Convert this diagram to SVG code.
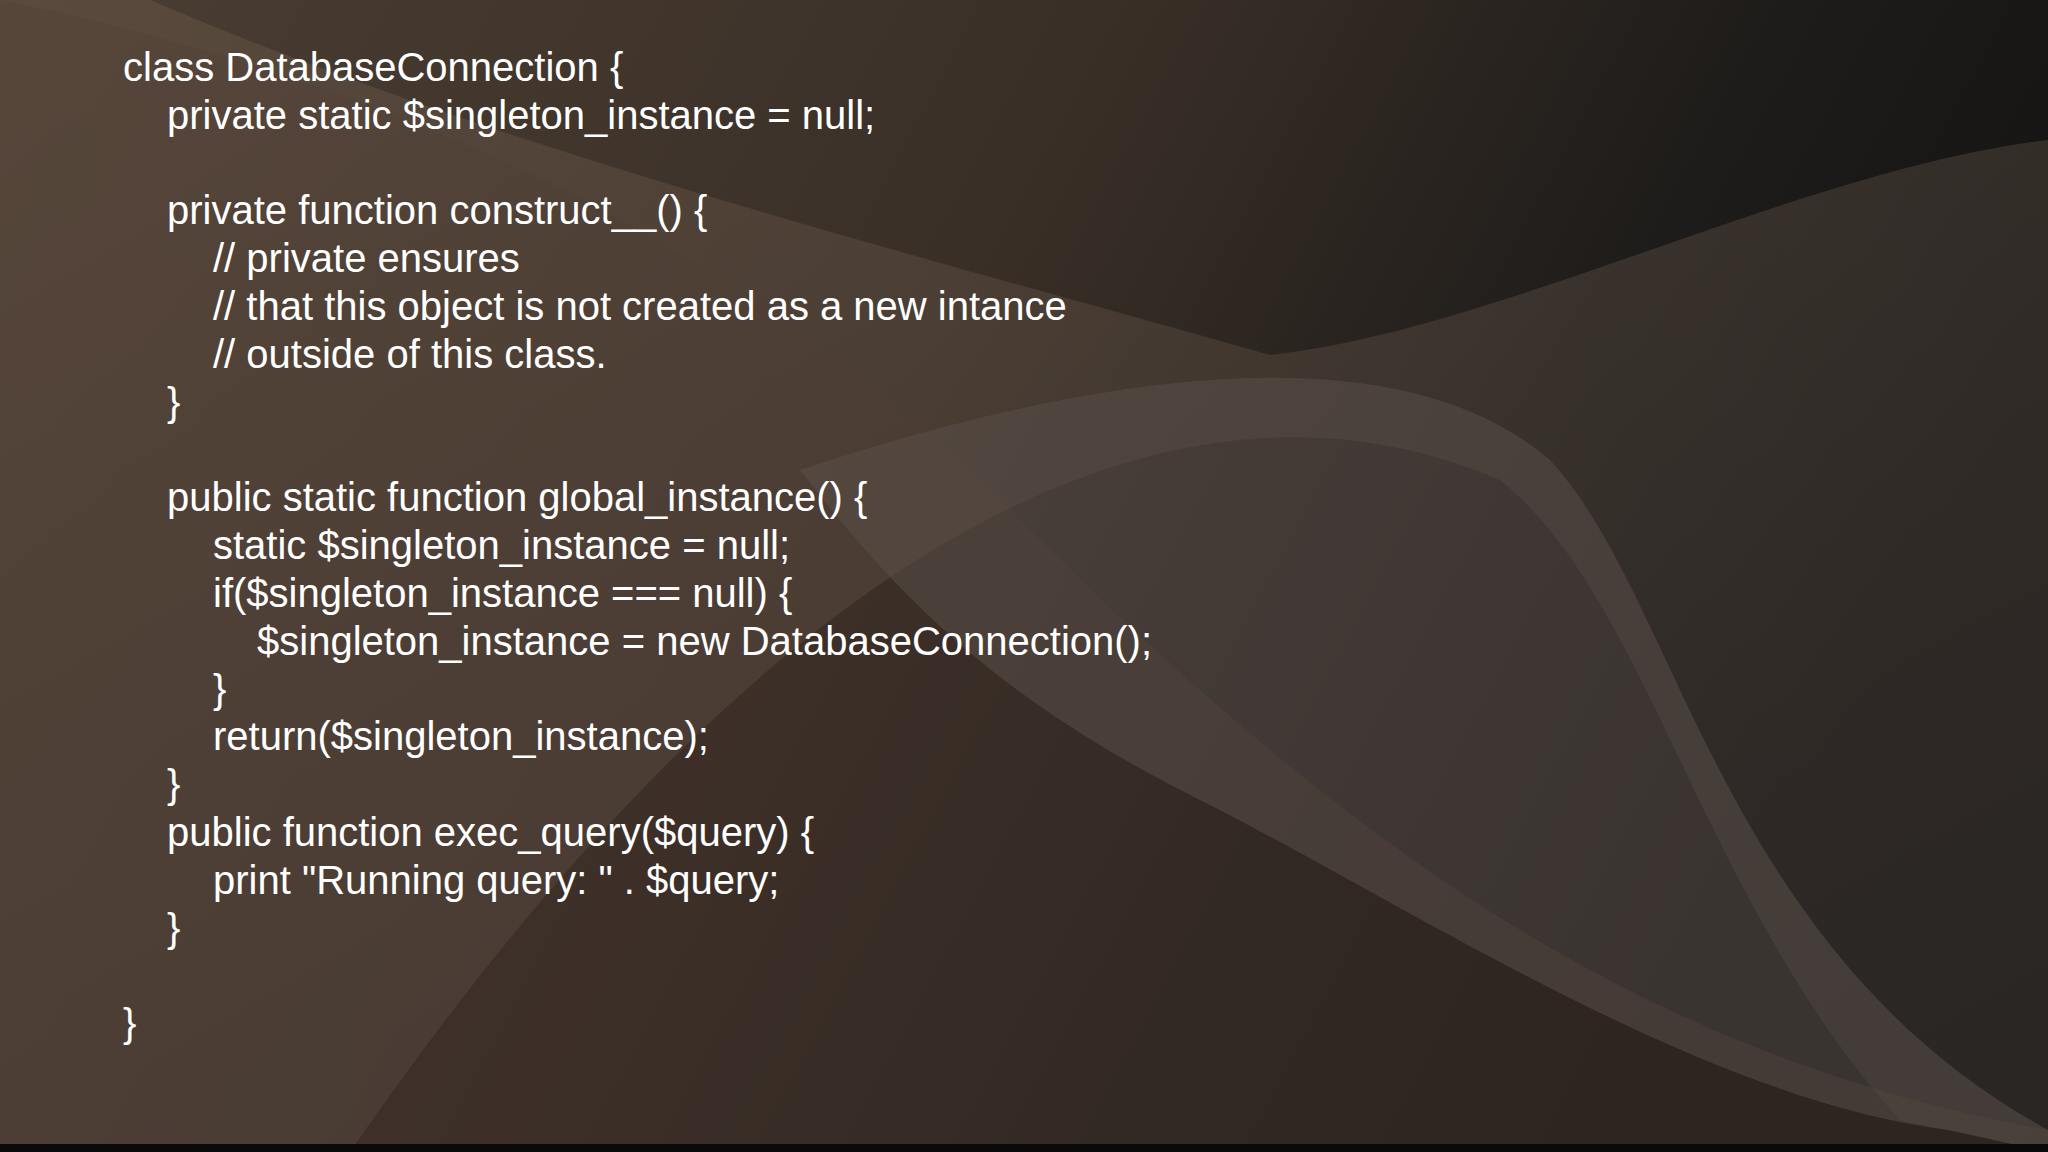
<svg xmlns="http://www.w3.org/2000/svg" width="2048" height="1152" viewBox="0 0 2048 1152">
<defs>
<linearGradient id="bg" x1="0" y1="0" x2="1" y2="0.3">
<stop offset="0" stop-color="#4a3e33"/><stop offset="0.5" stop-color="#3a2f27"/><stop offset="0.8" stop-color="#1e1c1a"/><stop offset="1" stop-color="#151413"/>
</linearGradient>
<linearGradient id="w1" x1="0" y1="0" x2="1" y2="1">
<stop offset="0" stop-color="#6b5848" stop-opacity="0.8"/><stop offset="1" stop-color="#4e4540" stop-opacity="0.6"/>
</linearGradient>
<style>text{font-family:"Liberation Sans",Arial,sans-serif;font-size:40px;fill:#ffffff}</style>
</defs>
<rect width="2048" height="1152" fill="url(#bg)"/>
<path d="M0 0 C300 60 700 200 1000 500 C1300 800 1600 1050 2048 1130 L2048 1152 L0 1152 Z" fill="#3f3129" opacity="0.6"/>
<path d="M150 0 C500 150 900 250 1270 355 C1500 330 1800 170 2048 140 L2048 1152 L1900 1120 C1700 900 1650 600 1500 480 C1200 350 800 500 350 1152 L0 1152 L0 0 Z" fill="url(#w1)" opacity="0.6"/>
<path d="M800 470 C1100 370 1400 330 1550 460 C1680 600 1720 950 2048 1130 L2048 1152 L1950 1130 C1700 1100 1400 900 1200 800 C1000 700 900 600 800 470 Z" fill="#5a4e48" opacity="0.55"/>
<rect y="1144" width="2048" height="8" fill="#0a0a0a"/>
<g id="code">
<text x="123" y="81">class DatabaseConnection {</text>
<text x="167" y="129">private static $singleton_instance = null;</text>
<text x="167" y="224">private function construct__() {</text>
<text x="213" y="272">// private ensures</text>
<text x="213" y="320">// that this object is not created as a new intance</text>
<text x="213" y="368">// outside of this class.</text>
<text x="167" y="416">}</text>
<text x="167" y="511">public static function global_instance() {</text>
<text x="213" y="559">static $singleton_instance = null;</text>
<text x="213" y="607">if($singleton_instance === null) {</text>
<text x="257" y="655">$singleton_instance = new DatabaseConnection();</text>
<text x="213" y="703">}</text>
<text x="213" y="750">return($singleton_instance);</text>
<text x="167" y="798">}</text>
<text x="167" y="846">public function exec_query($query) {</text>
<text x="213" y="894">print "Running query: " . $query;</text>
<text x="167" y="942">}</text>
<text x="123" y="1037">}</text>
</g>
</svg>
